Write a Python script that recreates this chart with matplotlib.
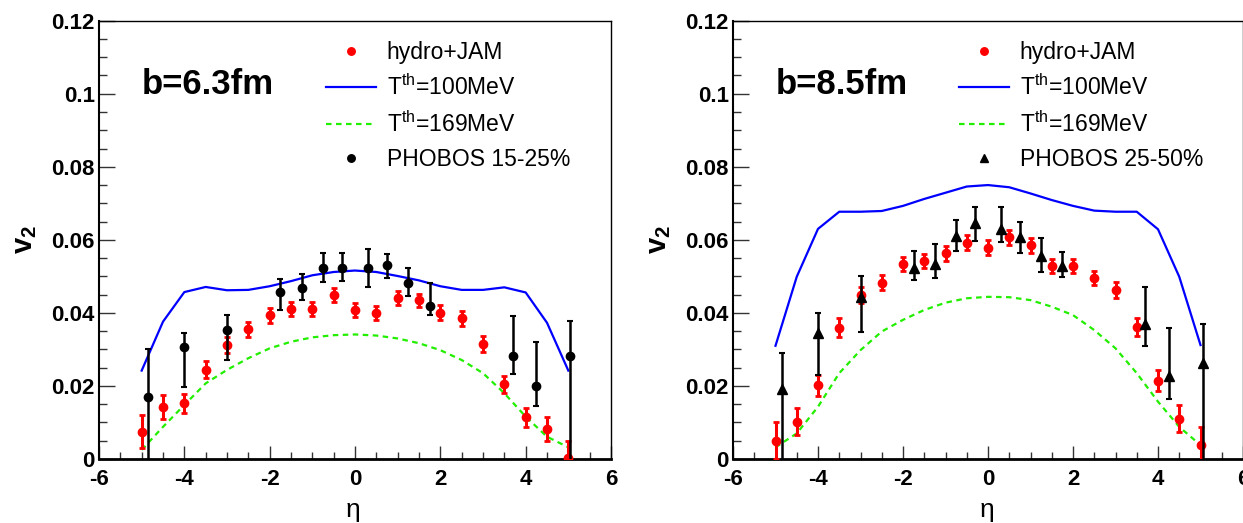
import numpy as np
import matplotlib
matplotlib.use('Agg')
import matplotlib.pyplot as plt
from matplotlib import font_manager
from matplotlib.ticker import MultipleLocator, FuncFormatter

plt.rcParams['font.family'] = ['Liberation Sans', 'DejaVu Sans']
plt.rcParams['axes.unicode_minus'] = False
plt.rcParams['mathtext.fontset'] = 'custom'
plt.rcParams['mathtext.rm'] = 'Liberation Sans'
plt.rcParams['mathtext.bf'] = 'Liberation Sans:bold'

# model grid in eta
eta_model = [-5.0, -4.5, -4.0, -3.5, -3.0, -2.5, -2.0, -1.5, -1.0, -0.5, 0.0,
             0.5, 1.0, 1.5, 2.0, 2.5, 3.0, 3.5, 4.0, 4.5, 5.0]
phobos_eta = [-4.85, -4.0, -3.0, -1.75, -1.25, -0.75, -0.3, 0.3, 0.75, 1.25,
              1.75, 3.7, 4.25, 5.05]

# b = 6.3 fm
hydro_b63 = [0.0075, 0.0143, 0.0153, 0.0245, 0.0312, 0.0355, 0.0393, 0.0411, 0.0411, 0.0448, 0.0407,
             0.0399, 0.0440, 0.0434, 0.0401, 0.0385, 0.0315, 0.0205, 0.0114, 0.0081, 0.0004]
hydro_err_b63 = [0.0045, 0.0033, 0.0026, 0.0023, 0.0021, 0.0020, 0.0020, 0.0019, 0.0019, 0.0019, 0.0019,
                 0.0019, 0.0019, 0.0019, 0.0020, 0.0020, 0.0021, 0.0023, 0.0026, 0.0033, 0.0045]
t100_b63 = [0.0242, 0.0376, 0.0457, 0.0471, 0.0462, 0.0463, 0.0473, 0.0487, 0.0503, 0.0512, 0.0516,
            0.0512, 0.0501, 0.0489, 0.0473, 0.0463, 0.0463, 0.0470, 0.0456, 0.0373, 0.0242]
t169_b63 = [0.0025, 0.0088, 0.0148, 0.0207, 0.0244, 0.0276, 0.0303, 0.0321, 0.0333, 0.0339, 0.0341,
            0.0338, 0.0330, 0.0317, 0.0298, 0.0271, 0.0235, 0.0180, 0.0116, 0.0061, 0.0032]
phobos_b63 = [0.0170, 0.0307, 0.0353, 0.0456, 0.0467, 0.0522, 0.0522, 0.0522, 0.0530, 0.0481,
              0.0420, 0.0281, 0.0201, 0.0281]
phobos_up_b63 = [0.0131, 0.0038, 0.0041, 0.0036, 0.0040, 0.0041, 0.0041, 0.0052, 0.0030, 0.0043,
                 0.0062, 0.0111, 0.0119, 0.0097]
phobos_lo_b63 = [0.0180, 0.0111, 0.0082, 0.0048, 0.0032, 0.0038, 0.0034, 0.0050, 0.0035, 0.0034,
                 0.0025, 0.0047, 0.0055, 0.0300]

# b = 8.5 fm
hydro_b85 = [0.0050, 0.0102, 0.0202, 0.0360, 0.0449, 0.0483, 0.0534, 0.0542, 0.0563, 0.0592, 0.0579,
             0.0607, 0.0585, 0.0528, 0.0528, 0.0496, 0.0463, 0.0362, 0.0214, 0.0110, 0.0038]
hydro_err_b85 = [0.0050, 0.0037, 0.0029, 0.0025, 0.0022, 0.0020, 0.0020, 0.0020, 0.0020, 0.0020, 0.0020,
                 0.0020, 0.0020, 0.0020, 0.0020, 0.0020, 0.0022, 0.0025, 0.0029, 0.0037, 0.0050]
t100_b85 = [0.0310, 0.0499, 0.0630, 0.0677, 0.0677, 0.0679, 0.0693, 0.0712, 0.0729, 0.0746, 0.0750,
            0.0744, 0.0727, 0.0709, 0.0693, 0.0680, 0.0677, 0.0677, 0.0629, 0.0499, 0.0312]
t169_b85 = [0.0032, 0.0070, 0.0143, 0.0235, 0.0298, 0.0349, 0.0381, 0.0408, 0.0428, 0.0440, 0.0444,
            0.0443, 0.0435, 0.0417, 0.0394, 0.0353, 0.0303, 0.0235, 0.0157, 0.0088, 0.0038]
phobos_b85 = [0.0193, 0.0346, 0.0444, 0.0522, 0.0534, 0.0611, 0.0647, 0.0629, 0.0607, 0.0557,
              0.0528, 0.0370, 0.0227, 0.0262]
phobos_up_b85 = [0.0096, 0.0053, 0.0058, 0.0047, 0.0055, 0.0043, 0.0042, 0.0062, 0.0042, 0.0049,
                 0.0038, 0.0102, 0.0133, 0.0107]
phobos_lo_b85 = [0.0200, 0.0116, 0.0095, 0.0032, 0.0038, 0.0041, 0.0050, 0.0036, 0.0042, 0.0044,
                 0.0031, 0.0061, 0.0063, 0.0300]

# narrow bold face for the big b= label if we have one
names = set(f.name for f in font_manager.fontManager.ttflist)
if 'Liberation Sans Narrow' in names:
    bfont, bsize = 'Liberation Sans Narrow', 29
else:
    bfont, bsize = 'Liberation Sans', 25


def panel(ax, btext, hydro, hydro_err, t100, t169, ph, ph_lo, ph_up, ph_label, ph_marker):
    ax.plot(eta_model, t100, '-', color='#0000ff', lw=1.6, label=r'T$^{\rm th}$=100MeV', zorder=2)
    ax.plot(eta_model, t169, '--', color='#22ee00', lw=1.6, dashes=(2.5, 2), label=r'T$^{\rm th}$=169MeV', zorder=2)
    ax.errorbar(eta_model, hydro, yerr=hydro_err, fmt='none', ecolor='red', elinewidth=2.2,
                capsize=2, capthick=2, zorder=3)
    ax.plot(eta_model, hydro, 'o', color='red', ms=6, mec='red', label='hydro+JAM', zorder=4)
    ax.errorbar(phobos_eta, ph, yerr=[ph_lo, ph_up], fmt='none', ecolor='black', elinewidth=1.8,
                capsize=2.5, capthick=1.5, zorder=5)
    ax.plot(phobos_eta, ph, ph_marker, color='black', ms=6 if ph_marker == 'o' else 6.5,
            label=ph_label, zorder=6)

    ax.set_xlim(-6, 6)
    ax.set_ylim(0, 0.12)
    ax.xaxis.set_major_locator(MultipleLocator(2))
    ax.xaxis.set_minor_locator(MultipleLocator(0.5))
    ax.yaxis.set_major_locator(MultipleLocator(0.02))
    ax.yaxis.set_minor_locator(MultipleLocator(0.005))
    ax.yaxis.set_major_formatter(FuncFormatter(lambda v, p: '%g' % round(v, 3)))
    ax.xaxis.set_major_formatter(FuncFormatter(lambda v, p: '%g' % v))
    ax.tick_params(axis='both', which='both', direction='in', top=False, right=False,
                   labelsize=16, width=1, color='#333333')
    ax.tick_params(axis='x', which='major', length=9.5, pad=7)
    ax.tick_params(axis='x', which='minor', length=5)
    ax.tick_params(axis='y', which='major', length=11.5, pad=3)
    ax.tick_params(axis='y', which='minor', length=5.4)
    for lab in ax.get_xticklabels() + ax.get_yticklabels():
        lab.set_fontweight('bold')
    ax.spines['bottom'].set_linewidth(2)
    ax.spines['left'].set_linewidth(1.5)
    ax.spines['top'].set_linewidth(1)
    ax.spines['right'].set_linewidth(1)

    ax.set_xlabel('η', fontsize=19)
    ax.xaxis.set_label_coords(0.497, -0.09)
    ax.set_ylabel(r'$\mathbf{v_2}$', fontsize=21)
    ax.yaxis.set_label_coords(-0.118, 0.5)

    ax.text(-5, 0.1, btext, fontsize=bsize, fontweight='bold', family=bfont)

    h, l = ax.get_legend_handles_labels()
    order = [l.index('hydro+JAM'), l.index(r'T$^{\rm th}$=100MeV'),
             l.index(r'T$^{\rm th}$=169MeV'), l.index(ph_label)]
    ax.legend([h[i] for i in order], [l[i] for i in order], loc='upper left',
              bbox_to_anchor=(0.443, 0.954), frameon=False, fontsize=16.5, borderpad=0,
              borderaxespad=0, handlelength=2.2, handletextpad=0.45, labelspacing=0.47,
              markerscale=0.9)


fig = plt.figure(figsize=(12.43, 5.23), dpi=100)
ax1 = fig.add_axes([99 / 1243, 1 - 459 / 523, 512 / 1243, 438.3 / 523])
ax2 = fig.add_axes([733 / 1243, 1 - 459 / 523, 510 / 1243, 438.3 / 523])

panel(ax1, 'b=6.3fm', hydro_b63, hydro_err_b63, t100_b63, t169_b63,
      phobos_b63, phobos_lo_b63, phobos_up_b63, 'PHOBOS 15-25%', 'o')
panel(ax2, 'b=8.5fm', hydro_b85, hydro_err_b85, t100_b85, t169_b85,
      phobos_b85, phobos_lo_b85, phobos_up_b85, 'PHOBOS 25-50%', '^')

fig.savefig('out.png', dpi=100)
